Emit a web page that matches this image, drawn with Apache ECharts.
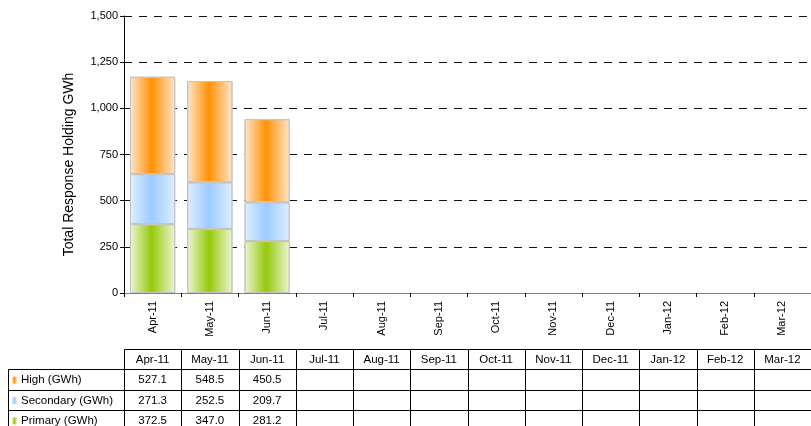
<!DOCTYPE html>
<html>
<head>
<meta charset="utf-8">
<script src="https://cdn.jsdelivr.net/npm/echarts@6/dist/echarts.min.js"></script>
<style>
html, body { margin: 0; padding: 0; background: #fff; }
#chart { width: 811px; height: 426px; }
</style>
</head>
<body>
<div id="chart"></div>
<script>
const months = ['Apr-11', 'May-11', 'Jun-11', 'Jul-11', 'Aug-11', 'Sep-11', 'Oct-11', 'Nov-11', 'Dec-11', 'Jan-12', 'Feb-12', 'Mar-12'];
const high = [527.1, 548.5, 450.5, null, null, null, null, null, null, null, null, null];
const secondary = [271.3, 252.5, 209.7, null, null, null, null, null, null, null, null, null];
const primary = [372.5, 347.0, 281.2, null, null, null, null, null, null, null, null, null];
const yTicks = [0, 250, 500, 750, 1000, 1250, 1500];

const FONT = 'Liberation Sans, Arial, sans-serif';

// bar fill: light at the edges, strong in the middle
function barFill(edge, mid) {
    return new echarts.graphic.LinearGradient(0, 0, 1, 0, [
        {offset: 0, color: edge},
        {offset: 0.48, color: mid},
        {offset: 1, color: edge}
    ]);
}
const colors = {
    high: ['#ffe6cc', '#ff9205'],
    secondary: ['#e0efff', '#9ccbff'],
    primary: ['#edf5d6', '#96c90a']
};

function stackSeries(name, data, c) {
    return {
        name: name,
        type: 'bar',
        stack: 'total',
        barCategoryGap: '21%',
        data: data,
        itemStyle: {color: barFill(c[0], c[1]), borderColor: '#c4c4c4', borderWidth: 1},
        emphasis: {disabled: true}
    };
}

const chart = echarts.init(document.getElementById('chart'), null, {renderer: 'canvas'});

chart.setOption({
    animation: false,
    textStyle: {fontFamily: FONT},
    grid: {left: 124, right: 0, top: 16, bottom: 133, containLabel: false},
    xAxis: {
        type: 'category',
        data: months,
        axisLine: {lineStyle: {color: '#808080', width: 1}},
        axisTick: {show: true, length: 4, lineStyle: {color: '#000'}},
        axisLabel: {rotate: 90, margin: 8, fontSize: 11, color: '#000', fontFamily: FONT}
    },
    yAxis: {
        type: 'value',
        min: yTicks[0],
        max: yTicks[yTicks.length - 1],
        interval: 250,
        name: 'Total Response Holding GWh',
        nameLocation: 'middle',
        nameGap: 48,
        nameTextStyle: {fontSize: 14, color: '#000', fontFamily: FONT, padding: [0, 20, 0, 0]},
        axisLine: {show: true, lineStyle: {color: '#000', width: 1}},
        axisTick: {show: true, length: 4, lineStyle: {color: '#000'}},
        axisLabel: {fontSize: 11, color: '#000', margin: 6, fontFamily: FONT,
            formatter: v => v.toLocaleString('en-US')},
        splitLine: {show: true, lineStyle: {color: '#111', width: 1, type: [8, 7]}}
    },
    series: [
        stackSeries('Primary (GWh)', primary, colors.primary),
        stackSeries('Secondary (GWh)', secondary, colors.secondary),
        stackSeries('High (GWh)', high, colors.high)
    ]
});

// data table under the chart, columns lined up with the category axis
function buildTable() {
    const rows = [
        {label: 'High (GWh)', data: high, c: colors.high},
        {label: 'Secondary (GWh)', data: secondary, c: colors.secondary},
        {label: 'Primary (GWh)', data: primary, c: colors.primary}
    ];
    const top = 349, rowH = 20.4, labelLeft = 8;
    const c0 = chart.convertToPixel({xAxisIndex: 0}, 0);
    const c1 = chart.convertToPixel({xAxisIndex: 0}, 1);
    const band = c1 - c0;
    const firstX = c0 - band / 2;
    const els = [];
    const line = (x1, y1, x2, y2) => els.push({
        type: 'line', silent: true,
        shape: {x1: x1, y1: y1, x2: x2, y2: y2},
        style: {stroke: '#000', lineWidth: 1}
    });
    const text = (t, x, y, align) => els.push({
        type: 'text', silent: true, x: x, y: y,
        style: {text: t, fill: '#000', font: '11.5px ' + FONT, textAlign: align, textVerticalAlign: 'middle'}
    });

    // horizontal lines
    line(Math.round(firstX) + 0.5, top + 0.5, 811, top + 0.5);
    for (let r = 1; r <= rows.length + 1; r++) {
        const y = Math.round(top + r * rowH) + 0.5;
        line(labelLeft + 0.5, y, 811, y);
    }
    // vertical lines
    const bottom = top + (rows.length + 1) * rowH + 2;
    line(labelLeft + 0.5, Math.round(top + rowH) + 0.5, labelLeft + 0.5, bottom);
    for (let i = 0; i <= months.length; i++) {
        const x = Math.round(firstX + i * band) + 0.5;
        line(x, top + 0.5, x, bottom);
    }
    // header
    months.forEach((m, i) => {
        text(m, chart.convertToPixel({xAxisIndex: 0}, i), top + rowH / 2 + 0.5, 'center');
    });
    // rows
    rows.forEach((row, r) => {
        const cy = top + (r + 1) * rowH + rowH / 2 + 0.5;
        els.push({
            type: 'rect', silent: true,
            shape: {x: 12, y: cy - 3.5, width: 5, height: 7},
            style: {fill: barFill(row.c[0], row.c[1])}
        });
        text(row.label, 21, cy, 'left');
        row.data.forEach((v, i) => {
            if (v == null) return;
            text(v.toFixed(1), chart.convertToPixel({xAxisIndex: 0}, i), cy, 'center');
        });
    });
    chart.setOption({graphic: {elements: els}});
}
buildTable();
</script>
</body>
</html>
